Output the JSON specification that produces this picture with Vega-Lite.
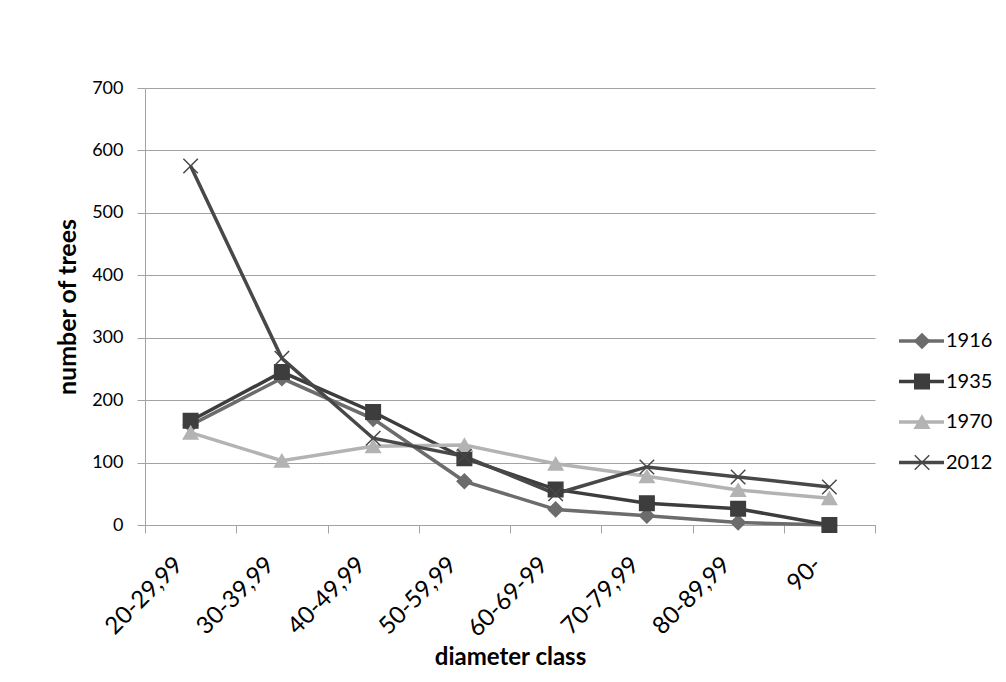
{
  "$schema": "https://vega.github.io/schema/vega-lite/v6.json",
  "width": 730,
  "height": 437,
  "autosize": {"type": "none"},
  "padding": {"left": 145, "top": 88, "right": 131, "bottom": 157},
  "background": "white",
  "config": {
    "font": "Lato",
    "view": {"stroke": null},
    "axis": {"labelColor": "black", "titleColor": "black", "domainColor": "#a3a3a3", "tickColor": "#a3a3a3", "gridColor": "#a3a3a3", "domainWidth": 1, "tickWidth": 1, "gridWidth": 1}
  },
  "data": {
    "values": [
      {"cls": "20-29,99", "year": "1916", "n": 160},
      {"cls": "30-39,99", "year": "1916", "n": 235},
      {"cls": "40-49,99", "year": "1916", "n": 170},
      {"cls": "50-59,99", "year": "1916", "n": 70},
      {"cls": "60-69-99", "year": "1916", "n": 25},
      {"cls": "70-79,99", "year": "1916", "n": 15},
      {"cls": "80-89,99", "year": "1916", "n": 4},
      {"cls": "90-", "year": "1916", "n": 0},
      {"cls": "20-29,99", "year": "1935", "n": 167},
      {"cls": "30-39,99", "year": "1935", "n": 245},
      {"cls": "40-49,99", "year": "1935", "n": 181},
      {"cls": "50-59,99", "year": "1935", "n": 107},
      {"cls": "60-69-99", "year": "1935", "n": 57},
      {"cls": "70-79,99", "year": "1935", "n": 35},
      {"cls": "80-89,99", "year": "1935", "n": 26},
      {"cls": "90-", "year": "1935", "n": 0},
      {"cls": "20-29,99", "year": "1970", "n": 148},
      {"cls": "30-39,99", "year": "1970", "n": 103},
      {"cls": "40-49,99", "year": "1970", "n": 126},
      {"cls": "50-59,99", "year": "1970", "n": 128},
      {"cls": "60-69-99", "year": "1970", "n": 98},
      {"cls": "70-79,99", "year": "1970", "n": 78},
      {"cls": "80-89,99", "year": "1970", "n": 56},
      {"cls": "90-", "year": "1970", "n": 43},
      {"cls": "20-29,99", "year": "2012", "n": 575},
      {"cls": "30-39,99", "year": "2012", "n": 267},
      {"cls": "40-49,99", "year": "2012", "n": 139},
      {"cls": "50-59,99", "year": "2012", "n": 110},
      {"cls": "60-69-99", "year": "2012", "n": 50},
      {"cls": "70-79,99", "year": "2012", "n": 93},
      {"cls": "80-89,99", "year": "2012", "n": 77},
      {"cls": "90-", "year": "2012", "n": 61}
    ]
  },
  "encoding": {
    "x": {
      "field": "cls",
      "type": "nominal",
      "sort": ["20-29,99", "30-39,99", "40-49,99", "50-59,99", "60-69-99", "70-79,99", "80-89,99", "90-"],
      "bandPosition": 0.5,
      "scale": {"type": "band", "paddingInner": 0, "paddingOuter": 0},
      "axis": {
        "title": "diameter class",
        "titleFontSize": 24,
        "titleFontWeight": "bold",
        "titlePadding": 4,
        "labelAngle": -45,
        "labelAlign": "right",
        "labelBaseline": "middle",
        "labelOffset": -12,
        "labelPadding": 28,
        "labelFontSize": 24,
        "tickBand": "extent",
        "tickSize": 8,
        "grid": false
      }
    },
    "y": {
      "field": "n",
      "type": "quantitative",
      "scale": {"domain": [0, 700], "nice": false},
      "axis": {
        "title": "number of trees",
        "titleFontSize": 25,
        "titleFontWeight": "bold",
        "titlePadding": 11,
        "values": [0, 100, 200, 300, 400, 500, 600, 700],
        "grid": true,
        "tickSize": 8,
        "labelPadding": 14,
        "labelFontSize": 18
      }
    }
  },
  "layer": [
    {
      "mark": {"type": "line", "strokeWidth": 3.5},
      "encoding": {
        "color": {
          "field": "year",
          "type": "nominal",
          "scale": {"range": ["#6c6c6c", "#3d3d3d", "#b3b3b3", "#484848"]},
          "legend": {
            "title": null,
            "orient": "none",
            "legendX": 752,
            "legendY": 243,
            "padding": 0,
            "symbolType": "stroke",
            "symbolSize": 2025,
            "symbolStrokeWidth": 3.5,
            "clipHeight": 20,
            "rowPadding": 20.5,
            "labelFontSize": 20,
            "labelColor": "black",
            "labelOffset": 0
          }
        }
      }
    },
    {
      "mark": {"type": "point", "filled": true, "size": 210, "strokeWidth": 1.5, "opacity": 1},
      "encoding": {
        "fill": {
          "field": "year",
          "type": "nominal",
          "scale": {"domain": ["1916", "1935", "1970", "2012"], "range": ["#6c6c6c", "#3d3d3d", "#b3b3b3", "#484848"]},
          "legend": {
            "title": null,
            "orient": "none",
            "legendX": 767,
            "legendY": 243,
            "padding": 0,
            "symbolSize": 210,
            "symbolStrokeWidth": 1.5,
            "clipHeight": 20,
            "rowPadding": 20.5,
            "labelFontSize": 20,
            "labelExpr": "''"
          }
        },
        "stroke": {
          "field": "year",
          "type": "nominal",
          "scale": {"domain": ["1916", "1935", "1970", "2012"], "range": ["#6c6c6c", "#3d3d3d", "#b3b3b3", "#484848"]}
        },
        "shape": {
          "field": "year",
          "type": "nominal",
          "scale": {"domain": ["1916", "1935", "1970", "2012"], "range": ["diamond", "square", "triangle-up", "M-1,-1L1,1M-1,1L1,-1"]}
        }
      }
    }
  ]
}
